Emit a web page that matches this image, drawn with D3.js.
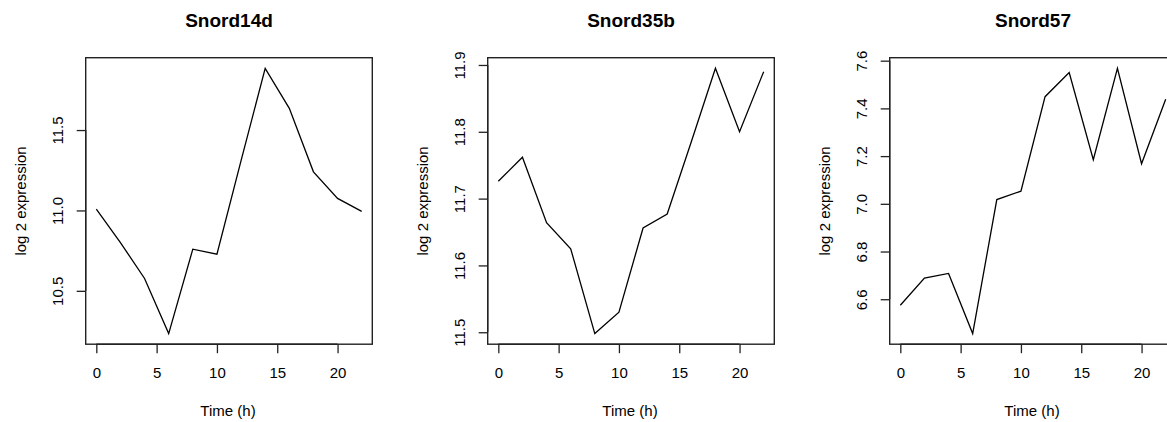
<!DOCTYPE html>
<html>
<head>
<meta charset="utf-8">
<script src="https://cdn.jsdelivr.net/npm/d3@7"></script>
<style>
  html, body { margin: 0; padding: 0; background: #fff; overflow: hidden; }
  svg text { font-family: "Liberation Sans", Arial, sans-serif; fill: #000; }
</style>
</head>
<body>
<script>
// time points (hours)
const time = [0, 2, 4, 6, 8, 10, 12, 14, 16, 18, 20, 22];

// log2 expression per gene
const snord14d = [11.008, 10.80, 10.577, 10.234, 10.759, 10.728, 11.31, 11.884, 11.635, 11.24, 11.075, 10.994];
const snord35b = [11.726, 11.762, 11.664, 11.625, 11.498, 11.530, 11.656, 11.677, 11.785, 11.895, 11.800, 11.890];
const snord57 = [6.575, 6.689, 6.708, 6.456, 7.018, 7.053, 7.449, 7.550, 7.185, 7.568, 7.168, 7.438];

const genes = ["Snord14d", "Snord35b", "Snord57"];
const series = [snord14d, snord35b, snord57];

const xTicks = [0, 5, 10, 15, 20];
const yTicks = [
  [10.5, 11.0, 11.5],
  [11.5, 11.6, 11.7, 11.8, 11.9],
  [6.6, 6.8, 7.0, 7.2, 7.4, 7.6]
];

const width = 1167, height = 422;
const boxW = 286.6, boxTop = 57.7, boxBottom = 344.2;
const panelStep = 402, firstLeft = 85.7;

const svg = d3.create("svg")
  .attr("width", width)
  .attr("height", height);

// R-style 4% padding on each side of the data range
function padded(ext) {
  const d = (ext[1] - ext[0]) * 0.04;
  return [ext[0] - d, ext[1] + d];
}

genes.forEach((name, i) => {
  const left = firstLeft + i * panelStep;
  const vals = series[i];

  const x = d3.scaleLinear()
    .domain(padded(d3.extent(time)))
    .range([left, left + boxW]);

  const y = d3.scaleLinear()
    .domain(padded(d3.extent(vals)))
    .range([boxBottom, boxTop]);

  const g = svg.append("g");

  // plot box
  g.append("rect")
    .attr("x", left)
    .attr("y", boxTop)
    .attr("width", boxW)
    .attr("height", boxBottom - boxTop)
    .attr("fill", "none")
    .attr("stroke", "#222")
    .attr("stroke-width", 1.4);

  // data line
  const line = d3.line()
    .x((d, j) => x(time[j]))
    .y(d => y(d));
  g.append("path")
    .attr("d", line(vals))
    .attr("fill", "none")
    .attr("stroke", "#000")
    .attr("stroke-width", 1.3)
    .attr("stroke-linejoin", "miter");

  // x axis
  const gx = g.append("g")
    .attr("transform", `translate(0,${boxBottom})`)
    .call(d3.axisBottom(x).tickValues(xTicks).tickSize(9).tickSizeOuter(0).tickPadding(14));
  gx.select(".domain")
    .attr("d", `M${x(xTicks[0])},0H${x(xTicks[xTicks.length - 1])}`)
    .attr("stroke", "#222").attr("stroke-width", 1.4);
  gx.selectAll(".tick line").attr("stroke", "#222").attr("stroke-width", 1.3);
  gx.selectAll(".tick text")
    .attr("font-size", 15)
    .attr("font-family", "Liberation Sans, Arial, sans-serif");

  // y axis, labels rotated as in R (las = 0)
  const yt = yTicks[i];
  const gy = g.append("g")
    .attr("transform", `translate(${left},0)`)
    .call(d3.axisLeft(y).tickValues(yt).tickFormat(d3.format(".1f")).tickSize(9).tickSizeOuter(0));
  gy.select(".domain")
    .attr("d", `M0,${y(yt[0])}V${y(yt[yt.length - 1])}`)
    .attr("stroke", "#222").attr("stroke-width", 1.4);
  gy.selectAll(".tick line").attr("stroke", "#222").attr("stroke-width", 1.3);
  gy.selectAll(".tick text")
    .attr("font-size", 15)
    .attr("font-family", "Liberation Sans, Arial, sans-serif")
    .attr("x", null)
    .attr("dy", null)
    .attr("text-anchor", "middle")
    .attr("dominant-baseline", "central")
    .attr("transform", "translate(-28,0) rotate(-90)");

  // title
  g.append("text")
    .attr("x", left + boxW / 2)
    .attr("y", 20)
    .attr("text-anchor", "middle")
    .attr("dominant-baseline", "central")
    .attr("font-size", 19)
    .attr("font-weight", "bold")
    .text(name);

  // axis titles
  g.append("text")
    .attr("x", left + boxW / 2 - 1)
    .attr("y", 410)
    .attr("text-anchor", "middle")
    .attr("dominant-baseline", "central")
    .attr("font-size", 15)
    .text("Time (h)");

  g.append("text")
    .attr("transform", `translate(${left - 65},${(boxTop + boxBottom) / 2}) rotate(-90)`)
    .attr("text-anchor", "middle")
    .attr("dominant-baseline", "central")
    .attr("font-size", 15)
    .text("log 2 expression");
});

document.body.appendChild(svg.node());
</script>
</body>
</html>
